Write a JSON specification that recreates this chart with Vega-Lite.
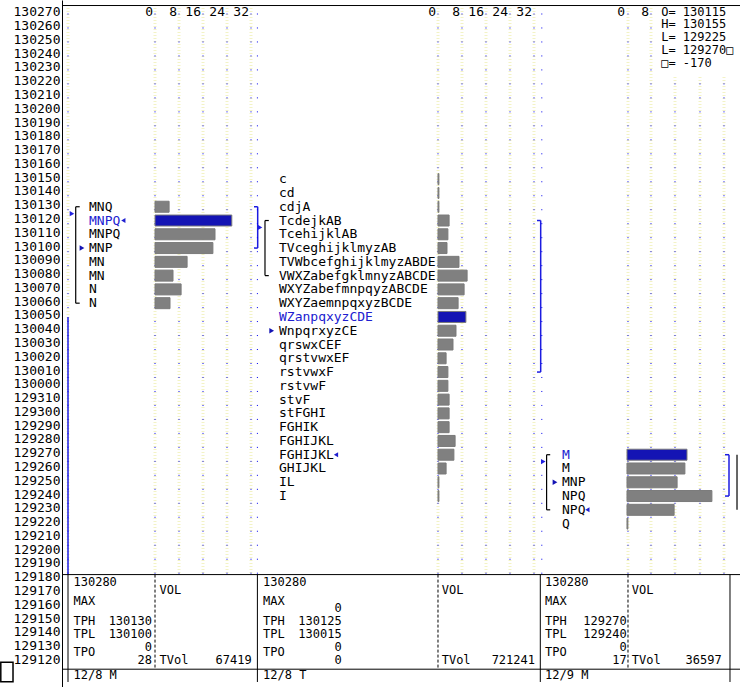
{
"$schema":"https://vega.github.io/schema/vega-lite/v6.json",
"padding":0,
"background":"white",
"bounds":"flush",
"spacing":0,
"config":{"view":{"stroke":null},"text":{"font":"DejaVu Sans Mono","fontSize":13,"baseline":"middle","align":"left","color":"black"}},
"datasets":{
"prof":[
{"d":"12/8 M","p":130.40625,"t":"MNQ","v":4.7},
{"d":"12/8 M","p":130.375,"t":"MNPQ","v":25.6,"poc":true},
{"d":"12/8 M","p":130.34375,"t":"MNPQ","v":20},
{"d":"12/8 M","p":130.3125,"t":"MNP","v":19.3},
{"d":"12/8 M","p":130.28125,"t":"MN","v":10.7},
{"d":"12/8 M","p":130.25,"t":"MN","v":6},
{"d":"12/8 M","p":130.21875,"t":"N","v":8.7},
{"d":"12/8 M","p":130.1875,"t":"N","v":5},
{"d":"12/8 T","p":130.46875,"t":"c","v":0.3},
{"d":"12/8 T","p":130.4375,"t":"cd","v":0.3},
{"d":"12/8 T","p":130.40625,"t":"cdjA","v":0.3},
{"d":"12/8 T","p":130.375,"t":"TcdejkAB","v":3.7},
{"d":"12/8 T","p":130.34375,"t":"TcehijklAB","v":3.3},
{"d":"12/8 T","p":130.3125,"t":"TVceghijklmyzAB","v":3},
{"d":"12/8 T","p":130.28125,"t":"TVWbcefghijklmyzABDE","v":7},
{"d":"12/8 T","p":130.25,"t":"VWXZabefgklmnyzABCDE","v":9.7},
{"d":"12/8 T","p":130.21875,"t":"WXYZabefmnpqyzABCDE","v":8.7},
{"d":"12/8 T","p":130.1875,"t":"WXYZaemnpqxyzBCDE","v":6.7},
{"d":"12/8 T","p":130.15625,"t":"WZanpqxyzCDE","v":9.3,"poc":true},
{"d":"12/8 T","p":130.125,"t":"WnpqrxyzCE","v":6},
{"d":"12/8 T","p":130.09375,"t":"qrswxCEF","v":5},
{"d":"12/8 T","p":130.0625,"t":"qrstvwxEF","v":2.7},
{"d":"12/8 T","p":130.03125,"t":"rstvwxF","v":3.3},
{"d":"12/8 T","p":130.0,"t":"rstvwF","v":3.3},
{"d":"12/8 T","p":129.96875,"t":"stvF","v":3.7},
{"d":"12/8 T","p":129.9375,"t":"stFGHI","v":3.7},
{"d":"12/8 T","p":129.90625,"t":"FGHIK","v":3.7},
{"d":"12/8 T","p":129.875,"t":"FGHIJKL","v":5.7},
{"d":"12/8 T","p":129.84375,"t":"FGHIJKL","v":5.3},
{"d":"12/8 T","p":129.8125,"t":"GHIJKL","v":2.7},
{"d":"12/8 T","p":129.78125,"t":"IL","v":0.3},
{"d":"12/8 T","p":129.75,"t":"I","v":0.3},
{"d":"12/9 M","p":129.84375,"t":"M","v":20,"poc":true},
{"d":"12/9 M","p":129.8125,"t":"M","v":19.3},
{"d":"12/9 M","p":129.78125,"t":"MNP","v":16.7},
{"d":"12/9 M","p":129.75,"t":"NPQ","v":28.3},
{"d":"12/9 M","p":129.71875,"t":"NPQ","v":15.7},
{"d":"12/9 M","p":129.6875,"t":"Q","v":0.3}
],
"mk":[
{"d":"12/8 M","k":"open","p":130.3125},
{"d":"12/8 M","k":"close","p":130.375},
{"d":"12/8 M","k":"mid","p":130.390625},
{"d":"12/8 T","k":"open","p":130.125},
{"d":"12/8 T","k":"close","p":129.84375},
{"d":"12/8 T","k":"mid","p":130.359375},
{"d":"12/9 M","k":"open","p":129.78125},
{"d":"12/9 M","k":"close","p":129.71875},
{"d":"12/9 M","k":"mid","p":129.828125}
],
"rng":[
{"d":"12/8 M","vah":130.40625,"val":130.1875,"tph":130.40625,"tpl":130.3125},
{"d":"12/8 T","vah":130.375,"val":130.25,"tph":130.375,"tpl":130.03125},
{"d":"12/9 M","vah":129.84375,"val":129.71875,"tph":129.84375,"tpl":129.75}
],
"stats":[
{"d":"12/8 M","max":"130280","maxv":"","tph":"130130","tpl":"130100","tpo1":"0","tpo2":"28","tvol":"67419"},
{"d":"12/8 T","max":"130280","maxv":"0","tph":"130125","tpl":"130015","tpo1":"0","tpo2":"0","tvol":"721241"},
{"d":"12/9 M","max":"130280","maxv":"","tph":"129270","tpl":"129240","tpo1":"0","tpo2":"17","tvol":"36597"}
],
"ticks":[{"v":0},{"v":8},{"v":16},{"v":24},{"v":32}]
},
"hconcat":[
{
"width":195,"height":687,
"data":{"name":"stats"},
"transform":[{"filter":"datum.d == '12/8 M'"}],
"resolve":{"axis":{"y":"independent"}},
"layer":[
{"data":{"values":[{"g":-29},{"g":0},{"g":8},{"g":16},{"g":24},{"g":32}]},"mark":{"type":"rule","color":"#f3f3c6","strokeWidth":3,"strokeDash":[1,2]},"encoding":{"x":{"field":"g","type":"quantitative","axis":null},"y":{"datum":130.86387,"axis":null},"y2":{"datum":129.57184}}},
{"data":{"values":[{"g":-29},{"g":0},{"g":8},{"g":16},{"g":24},{"g":32}]},"mark":{"type":"rule","color":"#0000ee","strokeWidth":1,"strokeDash":[1,12.98],"strokeDashOffset":5.48},"encoding":{"x":{"field":"g","type":"quantitative","axis":null},"y":{"datum":130.86387,"axis":null},"y2":{"datum":129.57184}}},
{"data":{"name":"prof"},"transform":[{"filter":"datum.d == '12/8 M'"}],"mark":{"type":"bar","orient":"horizontal","size":11,"stroke":"#7a7a7a","strokeWidth":1},"encoding":{
"x":{"field":"v","type":"quantitative","scale":{"domain":[-31,34],"nice":false,"zero":false},"axis":null},
"x2":{"datum":0},
"y":{"field":"p","type":"quantitative","scale":{"domain":[129.32819,130.86387],"nice":false,"zero":false},"axis":{"orient":"left","values":[130.84375,130.8125,130.78125,130.75,130.71875,130.6875,130.65625,130.625,130.59375,130.5625,130.53125,130.5,130.46875,130.4375,130.40625,130.375,130.34375,130.3125,130.28125,130.25,130.21875,130.1875,130.15625,130.125,130.09375,130.0625,130.03125,130,129.96875,129.9375,129.90625,129.875,129.84375,129.8125,129.78125,129.75,129.71875,129.6875,129.65625,129.625,129.59375,129.5625,129.53125,129.5,129.46875,129.4375,129.40625,129.375],"labelExpr":"floor(datum.value) + pad(toString(round((datum.value - floor(datum.value)) * 320)), 3, '0', 'left')","title":null,"ticks":false,"grid":false,"domain":true,"domainColor":"black","domainWidth":1,"labelFont":"DejaVu Sans Mono","labelFontSize":13,"labelColor":"black","labelPadding":2,"labelOffset":-2,"labelOverlap":false,"labelFlush":false,"labelBound":false,"minExtent":49,"maxExtent":49}},
"color":{"condition":{"test":"datum.poc","value":"#1414b4"},"value":"#808080"}}},
{"data":{"name":"prof"},"transform":[{"filter":"datum.d == '12/8 M'"}],"mark":{"type":"text"},"encoding":{"x":{"datum":-22,"axis":null},"y":{"field":"p","type":"quantitative","axis":null},"text":{"field":"t"},"color":{"condition":{"test":"datum.poc","value":"#2020d0"},"value":"black"}}},
{"data":{"name":"mk"},"transform":[{"filter":"datum.d == '12/8 M' && datum.k == 'open'"}],"mark":{"type":"point","shape":"triangle-right","filled":true,"size":30,"color":"#1414b4","opacity":1},"encoding":{"x":{"datum":-24.33,"axis":null},"y":{"field":"p","type":"quantitative","axis":null}}},
{"data":{"name":"mk"},"transform":[{"filter":"datum.d == '12/8 M' && datum.k == 'close'"}],"mark":{"type":"point","shape":"triangle-left","filled":true,"size":24,"color":"#2020d0","opacity":1},"encoding":{"x":{"datum":-10.56,"axis":null},"y":{"field":"p","type":"quantitative","axis":null}}},
{"data":{"name":"mk"},"transform":[{"filter":"datum.d == '12/8 M' && datum.k == 'mid'"}],"mark":{"type":"point","shape":"triangle-right","filled":true,"size":28,"color":"#2020e0","opacity":1},"encoding":{"x":{"datum":-27.67,"axis":null},"y":{"field":"p","type":"quantitative","axis":null}}},
{"data":{"name":"rng"},"transform":[{"filter":"datum.d == '12/8 M'"}],"mark":{"type":"rule","color":"black","strokeWidth":1.2},"encoding":{"x":{"datum":-26.43,"axis":null},"y":{"field":"vah","type":"quantitative","axis":null},"y2":{"field":"val"}}},
{"data":{"name":"rng"},"transform":[{"filter":"datum.d == '12/8 M'"}],"mark":{"type":"rule","color":"black","strokeWidth":1.2},"encoding":{"x":{"datum":-26.43,"axis":null},"x2":{"datum":-25.1},"y":{"field":"vah","type":"quantitative","axis":null}}},
{"data":{"name":"rng"},"transform":[{"filter":"datum.d == '12/8 M'"}],"mark":{"type":"rule","color":"black","strokeWidth":1.2},"encoding":{"x":{"datum":-26.43,"axis":null},"x2":{"datum":-25.1},"y":{"field":"val","type":"quantitative","axis":null}}},
{"data":{"name":"rng"},"transform":[{"filter":"datum.d == '12/8 M'"}],"mark":{"type":"rule","color":"#1c1ce0","strokeWidth":1.5},"encoding":{"x":{"datum":34.23,"axis":null},"y":{"field":"tph","type":"quantitative","axis":null},"y2":{"field":"tpl"}}},
{"data":{"name":"rng"},"transform":[{"filter":"datum.d == '12/8 M'"}],"mark":{"type":"rule","color":"#1c1ce0","strokeWidth":1.5},"encoding":{"x":{"datum":33.0,"axis":null},"x2":{"datum":34.23},"y":{"field":"tph","type":"quantitative","axis":null}}},
{"data":{"name":"rng"},"transform":[{"filter":"datum.d == '12/8 M'"}],"mark":{"type":"rule","color":"#1c1ce0","strokeWidth":1.5},"encoding":{"x":{"datum":33.0,"axis":null},"x2":{"datum":34.23},"y":{"field":"tpl","type":"quantitative","axis":null}}},
{"mark":{"type":"rule","color":"#1c1ce0","strokeWidth":1.5},"encoding":{"x":{"datum":-29,"axis":null},"y":{"datum":130.15625,"axis":null},"y2":{"datum":129.57184}}},
{"data":{"name":"ticks"},"mark":{"type":"text","align":"right","dx":-2,"dy":-2},"encoding":{"x":{"field":"v","type":"quantitative","axis":null},"y":{"datum":130.84375,"axis":null},"text":{"field":"v"}}},
{"mark":{"type":"rule","color":"black","strokeWidth":1},"encoding":{"y":{"datum":130.8627,"axis":null}}},
{"mark":{"type":"rule","color":"black","strokeWidth":1},"encoding":{"y":{"datum":129.57184,"axis":null}}},
{"mark":{"type":"rule","color":"black","strokeWidth":1},"encoding":{"y":{"datum":129.35725,"axis":null}}},
{"mark":{"type":"rule","color":"black","strokeWidth":1},"encoding":{"x":{"datum":-29,"axis":null},"y":{"datum":129.57184,"axis":null},"y2":{"datum":129.32819}}},
{"mark":{"type":"rule","color":"black","strokeWidth":1,"strokeDash":[3,2]},"encoding":{"x":{"datum":0,"axis":null},"y":{"datum":129.57184,"axis":null},"y2":{"datum":129.35725}}},
{"mark":{"type":"text","fontSize":12},"encoding":{"x":{"datum":-27.17,"axis":null},"y":{"datum":129.55396,"axis":null},"text":{"field":"max"}}},
{"mark":{"type":"text","text":"VOL","fontSize":12},"encoding":{"x":{"datum":1.5,"axis":null},"y":{"datum":129.53608,"axis":null}}},
{"mark":{"type":"text","text":"MAX","fontSize":12},"encoding":{"x":{"datum":-27.17,"axis":null},"y":{"datum":129.51149,"axis":null}}},
{"mark":{"type":"text","align":"right","fontSize":12},"encoding":{"x":{"datum":-1,"axis":null},"y":{"datum":129.49584,"axis":null},"text":{"field":"maxv"}}},
{"mark":{"type":"text","text":"TPH","fontSize":12},"encoding":{"x":{"datum":-27.17,"axis":null},"y":{"datum":129.46679,"axis":null}}},
{"mark":{"type":"text","align":"right","fontSize":12},"encoding":{"x":{"datum":-1,"axis":null},"y":{"datum":129.46679,"axis":null},"text":{"field":"tph"}}},
{"mark":{"type":"text","text":"TPL","fontSize":12},"encoding":{"x":{"datum":-27.17,"axis":null},"y":{"datum":129.43772,"axis":null}}},
{"mark":{"type":"text","align":"right","fontSize":12},"encoding":{"x":{"datum":-1,"axis":null},"y":{"datum":129.43772,"axis":null},"text":{"field":"tpl"}}},
{"mark":{"type":"text","text":"TPO","fontSize":12},"encoding":{"x":{"datum":-27.17,"axis":null},"y":{"datum":129.39525,"axis":null}}},
{"mark":{"type":"text","align":"right","fontSize":12},"encoding":{"x":{"datum":-1,"axis":null},"y":{"datum":129.40866,"axis":null},"text":{"field":"tpo1"}}},
{"mark":{"type":"text","align":"right","fontSize":12},"encoding":{"x":{"datum":-1,"axis":null},"y":{"datum":129.37737,"axis":null},"text":{"field":"tpo2"}}},
{"mark":{"type":"text","text":"TVol","fontSize":12},"encoding":{"x":{"datum":1.5,"axis":null},"y":{"datum":129.37737,"axis":null}}},
{"mark":{"type":"text","align":"right","fontSize":12},"encoding":{"x":{"datum":32.23,"axis":null},"y":{"datum":129.37737,"axis":null},"text":{"field":"tvol"}}},
{"mark":{"type":"text","fontSize":12},"encoding":{"x":{"datum":-27.17,"axis":null},"y":{"datum":129.34384,"axis":null},"text":{"field":"d"}}},
{"mark":{"type":"rect","fill":"white","stroke":"black","strokeWidth":1.5},"encoding":{"x":{"datum":-51.4,"axis":null},"x2":{"datum":-47.33},"y":{"datum":129.37288,"axis":null},"y2":{"datum":129.3285}}}
]
},
{
"width":283,"height":687,
"data":{"name":"stats"},
"transform":[{"filter":"datum.d == '12/8 T'"}],
"layer":[
{"data":{"values":[{"g":0},{"g":8},{"g":16},{"g":24},{"g":32}]},"mark":{"type":"rule","color":"#f3f3c6","strokeWidth":3,"strokeDash":[1,2]},"encoding":{"x":{"field":"g","type":"quantitative","axis":null},"y":{"datum":130.86387,"axis":null},"y2":{"datum":129.57184}}},
{"data":{"values":[{"g":-60.2},{"g":0},{"g":8},{"g":16},{"g":24},{"g":32}]},"mark":{"type":"rule","color":"#0000ee","strokeWidth":1,"strokeDash":[1,12.98],"strokeDashOffset":5.48},"encoding":{"x":{"field":"g","type":"quantitative","axis":null},"y":{"datum":130.86387,"axis":null},"y2":{"datum":129.57184}}},
{"data":{"name":"prof"},"transform":[{"filter":"datum.d == '12/8 T'"}],"mark":{"type":"bar","orient":"horizontal","size":11,"stroke":"#7a7a7a","strokeWidth":1},"encoding":{
"x":{"field":"v","type":"quantitative","scale":{"domain":[-60.333,34],"nice":false,"zero":false},"axis":null},
"x2":{"datum":0},
"y":{"field":"p","type":"quantitative","scale":{"domain":[129.32819,130.86387],"nice":false,"zero":false},"axis":null},
"color":{"condition":{"test":"datum.poc","value":"#1414b4"},"value":"#808080"}}},
{"data":{"name":"prof"},"transform":[{"filter":"datum.d == '12/8 T'"}],"mark":{"type":"text"},"encoding":{"x":{"datum":-53,"axis":null},"y":{"field":"p","type":"quantitative","axis":null},"text":{"field":"t"},"color":{"condition":{"test":"datum.poc","value":"#2020d0"},"value":"black"}}},
{"data":{"name":"mk"},"transform":[{"filter":"datum.d == '12/8 T' && datum.k == 'open'"}],"mark":{"type":"point","shape":"triangle-right","filled":true,"size":30,"color":"#1414b4","opacity":1},"encoding":{"x":{"datum":-55.43,"axis":null},"y":{"field":"p","type":"quantitative","axis":null}}},
{"data":{"name":"mk"},"transform":[{"filter":"datum.d == '12/8 T' && datum.k == 'close'"}],"mark":{"type":"point","shape":"triangle-left","filled":true,"size":24,"color":"#2020d0","opacity":1},"encoding":{"x":{"datum":-34,"axis":null},"y":{"field":"p","type":"quantitative","axis":null}}},
{"data":{"name":"mk"},"transform":[{"filter":"datum.d == '12/8 T' && datum.k == 'mid'"}],"mark":{"type":"point","shape":"triangle-right","filled":true,"size":28,"color":"#2020e0","opacity":1},"encoding":{"x":{"datum":-59.33,"axis":null},"y":{"field":"p","type":"quantitative","axis":null}}},
{"data":{"name":"rng"},"transform":[{"filter":"datum.d == '12/8 T'"}],"mark":{"type":"rule","color":"black","strokeWidth":1.2},"encoding":{"x":{"datum":-57.67,"axis":null},"y":{"field":"vah","type":"quantitative","axis":null},"y2":{"field":"val"}}},
{"data":{"name":"rng"},"transform":[{"filter":"datum.d == '12/8 T'"}],"mark":{"type":"rule","color":"black","strokeWidth":1.2},"encoding":{"x":{"datum":-57.67,"axis":null},"x2":{"datum":-56.4},"y":{"field":"vah","type":"quantitative","axis":null}}},
{"data":{"name":"rng"},"transform":[{"filter":"datum.d == '12/8 T'"}],"mark":{"type":"rule","color":"black","strokeWidth":1.2},"encoding":{"x":{"datum":-57.67,"axis":null},"x2":{"datum":-56.4},"y":{"field":"val","type":"quantitative","axis":null}}},
{"data":{"name":"rng"},"transform":[{"filter":"datum.d == '12/8 T'"}],"mark":{"type":"rule","color":"#1c1ce0","strokeWidth":1.5},"encoding":{"x":{"datum":34.23,"axis":null},"y":{"field":"tph","type":"quantitative","axis":null},"y2":{"field":"tpl"}}},
{"data":{"name":"rng"},"transform":[{"filter":"datum.d == '12/8 T'"}],"mark":{"type":"rule","color":"#1c1ce0","strokeWidth":1.5},"encoding":{"x":{"datum":33.0,"axis":null},"x2":{"datum":34.23},"y":{"field":"tph","type":"quantitative","axis":null}}},
{"data":{"name":"rng"},"transform":[{"filter":"datum.d == '12/8 T'"}],"mark":{"type":"rule","color":"#1c1ce0","strokeWidth":1.5},"encoding":{"x":{"datum":33.0,"axis":null},"x2":{"datum":34.23},"y":{"field":"tpl","type":"quantitative","axis":null}}},
{"data":{"name":"ticks"},"mark":{"type":"text","align":"right","dx":-2,"dy":-2},"encoding":{"x":{"field":"v","type":"quantitative","axis":null},"y":{"datum":130.84375,"axis":null},"text":{"field":"v"}}},
{"mark":{"type":"rule","color":"black","strokeWidth":1},"encoding":{"y":{"datum":130.8627,"axis":null}}},
{"mark":{"type":"rule","color":"black","strokeWidth":1},"encoding":{"y":{"datum":129.57184,"axis":null}}},
{"mark":{"type":"rule","color":"black","strokeWidth":1},"encoding":{"y":{"datum":129.35725,"axis":null}}},
{"mark":{"type":"rule","color":"black","strokeWidth":1},"encoding":{"x":{"datum":-60.2,"axis":null},"y":{"datum":129.57184,"axis":null},"y2":{"datum":129.32819}}},
{"mark":{"type":"rule","color":"black","strokeWidth":1,"strokeDash":[3,2]},"encoding":{"x":{"datum":0,"axis":null},"y":{"datum":129.57184,"axis":null},"y2":{"datum":129.35725}}},
{"mark":{"type":"text","fontSize":12},"encoding":{"x":{"datum":-58.33,"axis":null},"y":{"datum":129.55396,"axis":null},"text":{"field":"max"}}},
{"mark":{"type":"text","text":"VOL","fontSize":12},"encoding":{"x":{"datum":1.23,"axis":null},"y":{"datum":129.53608,"axis":null}}},
{"mark":{"type":"text","text":"MAX","fontSize":12},"encoding":{"x":{"datum":-58.33,"axis":null},"y":{"datum":129.51149,"axis":null}}},
{"mark":{"type":"text","align":"right","fontSize":12},"encoding":{"x":{"datum":-32.1,"axis":null},"y":{"datum":129.49584,"axis":null},"text":{"field":"maxv"}}},
{"mark":{"type":"text","text":"TPH","fontSize":12},"encoding":{"x":{"datum":-58.33,"axis":null},"y":{"datum":129.46679,"axis":null}}},
{"mark":{"type":"text","align":"right","fontSize":12},"encoding":{"x":{"datum":-32.1,"axis":null},"y":{"datum":129.46679,"axis":null},"text":{"field":"tph"}}},
{"mark":{"type":"text","text":"TPL","fontSize":12},"encoding":{"x":{"datum":-58.33,"axis":null},"y":{"datum":129.43772,"axis":null}}},
{"mark":{"type":"text","align":"right","fontSize":12},"encoding":{"x":{"datum":-32.1,"axis":null},"y":{"datum":129.43772,"axis":null},"text":{"field":"tpl"}}},
{"mark":{"type":"text","text":"TPO","fontSize":12},"encoding":{"x":{"datum":-58.33,"axis":null},"y":{"datum":129.39525,"axis":null}}},
{"mark":{"type":"text","align":"right","fontSize":12},"encoding":{"x":{"datum":-32.1,"axis":null},"y":{"datum":129.40866,"axis":null},"text":{"field":"tpo1"}}},
{"mark":{"type":"text","align":"right","fontSize":12},"encoding":{"x":{"datum":-32.1,"axis":null},"y":{"datum":129.37737,"axis":null},"text":{"field":"tpo2"}}},
{"mark":{"type":"text","text":"TVol","fontSize":12},"encoding":{"x":{"datum":1.23,"axis":null},"y":{"datum":129.37737,"axis":null}}},
{"mark":{"type":"text","align":"right","fontSize":12},"encoding":{"x":{"datum":32.33,"axis":null},"y":{"datum":129.37737,"axis":null},"text":{"field":"tvol"}}},
{"mark":{"type":"text","fontSize":12},"encoding":{"x":{"datum":-58.33,"axis":null},"y":{"datum":129.34384,"axis":null},"text":{"field":"d"}}}
]
},
{
"width":200,"height":687,
"data":{"name":"stats"},
"transform":[{"filter":"datum.d == '12/9 M'"}],
"layer":[
{"data":{"values":[{"g":0.33},{"g":8},{"g":16},{"g":24.33},{"g":32.33}]},"mark":{"type":"rule","color":"#f3f3c6","strokeWidth":3,"strokeDash":[1,2]},"encoding":{"x":{"field":"g","type":"quantitative","axis":null},"y":{"datum":130.86387,"axis":null},"y2":{"datum":129.57184}}},
{"data":{"values":[{"g":-28.4},{"g":0.33},{"g":8},{"g":16},{"g":24.33},{"g":32.33}]},"mark":{"type":"rule","color":"#0000ee","strokeWidth":1,"strokeDash":[1,12.98],"strokeDashOffset":5.48},"encoding":{"x":{"field":"g","type":"quantitative","axis":null},"y":{"datum":130.86387,"axis":null},"y2":{"datum":129.57184}}},
{"mark":{"type":"rect","fill":"white"},"encoding":{"x":{"datum":9.33,"axis":null},"x2":{"datum":37.667},"y":{"datum":130.86387,"axis":null},"y2":{"datum":130.70516}}},
{"data":{"name":"prof"},"transform":[{"filter":"datum.d == '12/9 M'"}],"mark":{"type":"bar","orient":"horizontal","size":11,"stroke":"#7a7a7a","strokeWidth":1},"encoding":{
"x":{"field":"v","type":"quantitative","scale":{"domain":[-29,37.667],"nice":false,"zero":false},"axis":null},
"x2":{"datum":0},
"y":{"field":"p","type":"quantitative","scale":{"domain":[129.32819,130.86387],"nice":false,"zero":false},"axis":null},
"color":{"condition":{"test":"datum.poc","value":"#1414b4"},"value":"#808080"}}},
{"data":{"name":"prof"},"transform":[{"filter":"datum.d == '12/9 M'"}],"mark":{"type":"text"},"encoding":{"x":{"datum":-21.67,"axis":null},"y":{"field":"p","type":"quantitative","axis":null},"text":{"field":"t"},"color":{"condition":{"test":"datum.poc","value":"#2020d0"},"value":"black"}}},
{"data":{"name":"mk"},"transform":[{"filter":"datum.d == '12/9 M' && datum.k == 'open'"}],"mark":{"type":"point","shape":"triangle-right","filled":true,"size":30,"color":"#1414b4","opacity":1},"encoding":{"x":{"datum":-24,"axis":null},"y":{"field":"p","type":"quantitative","axis":null}}},
{"data":{"name":"mk"},"transform":[{"filter":"datum.d == '12/9 M' && datum.k == 'close'"}],"mark":{"type":"point","shape":"triangle-left","filled":true,"size":24,"color":"#2020d0","opacity":1},"encoding":{"x":{"datum":-13.2,"axis":null},"y":{"field":"p","type":"quantitative","axis":null}}},
{"data":{"name":"mk"},"transform":[{"filter":"datum.d == '12/9 M' && datum.k == 'mid'"}],"mark":{"type":"point","shape":"triangle-right","filled":true,"size":28,"color":"#2020e0","opacity":1},"encoding":{"x":{"datum":-27.9,"axis":null},"y":{"field":"p","type":"quantitative","axis":null}}},
{"data":{"name":"rng"},"transform":[{"filter":"datum.d == '12/9 M'"}],"mark":{"type":"rule","color":"black","strokeWidth":1.2},"encoding":{"x":{"datum":-26.8,"axis":null},"y":{"field":"vah","type":"quantitative","axis":null},"y2":{"field":"val"}}},
{"data":{"name":"rng"},"transform":[{"filter":"datum.d == '12/9 M'"}],"mark":{"type":"rule","color":"black","strokeWidth":1.2},"encoding":{"x":{"datum":-26.8,"axis":null},"x2":{"datum":-25.6},"y":{"field":"vah","type":"quantitative","axis":null}}},
{"data":{"name":"rng"},"transform":[{"filter":"datum.d == '12/9 M'"}],"mark":{"type":"rule","color":"black","strokeWidth":1.2},"encoding":{"x":{"datum":-26.8,"axis":null},"x2":{"datum":-25.6},"y":{"field":"val","type":"quantitative","axis":null}}},
{"data":{"name":"rng"},"transform":[{"filter":"datum.d == '12/9 M'"}],"mark":{"type":"rule","color":"black","strokeWidth":1.2},"encoding":{"x":{"datum":36.67,"axis":null},"y":{"field":"vah","type":"quantitative","axis":null},"y2":{"field":"val"}}},
{"data":{"name":"rng"},"transform":[{"filter":"datum.d == '12/9 M'"}],"mark":{"type":"rule","color":"#1c1ce0","strokeWidth":1.5},"encoding":{"x":{"datum":34,"axis":null},"y":{"field":"tph","type":"quantitative","axis":null},"y2":{"field":"tpl"}}},
{"data":{"name":"rng"},"transform":[{"filter":"datum.d == '12/9 M'"}],"mark":{"type":"rule","color":"#1c1ce0","strokeWidth":1.5},"encoding":{"x":{"datum":32.67,"axis":null},"x2":{"datum":34},"y":{"field":"tph","type":"quantitative","axis":null}}},
{"data":{"name":"rng"},"transform":[{"filter":"datum.d == '12/9 M'"}],"mark":{"type":"rule","color":"#1c1ce0","strokeWidth":1.5},"encoding":{"x":{"datum":32.67,"axis":null},"x2":{"datum":34},"y":{"field":"tpl","type":"quantitative","axis":null}}},
{"data":{"name":"ticks"},"transform":[{"filter":"datum.v <= 8"}],"mark":{"type":"text","align":"right","dx":-2,"dy":-2},"encoding":{"x":{"field":"v","type":"quantitative","axis":null},"y":{"datum":130.84375,"axis":null},"text":{"field":"v"}}},
{"data":{"values":[{"s":"O= 130115"}]},"mark":{"type":"text","fontSize":12},"encoding":{"x":{"datum":11.4,"axis":null},"y":{"datum":130.84889,"axis":null},"text":{"field":"s"}}},
{"data":{"values":[{"s":"H= 130155"}]},"mark":{"type":"text","fontSize":12},"encoding":{"x":{"datum":11.4,"axis":null},"y":{"datum":130.81983,"axis":null},"text":{"field":"s"}}},
{"data":{"values":[{"s":"L= 129225"}]},"mark":{"type":"text","fontSize":12},"encoding":{"x":{"datum":11.4,"axis":null},"y":{"datum":130.79077,"axis":null},"text":{"field":"s"}}},
{"data":{"values":[{"s":"L= 129270\u25a1"}]},"mark":{"type":"text","fontSize":12},"encoding":{"x":{"datum":11.4,"axis":null},"y":{"datum":130.76171,"axis":null},"text":{"field":"s"}}},
{"data":{"values":[{"s":"\u25a1=   -170"}]},"mark":{"type":"text","fontSize":12},"encoding":{"x":{"datum":11.4,"axis":null},"y":{"datum":130.73265,"axis":null},"text":{"field":"s"}}},
{"mark":{"type":"rule","color":"black","strokeWidth":1},"encoding":{"y":{"datum":130.8627,"axis":null}}},
{"mark":{"type":"rule","color":"black","strokeWidth":1},"encoding":{"y":{"datum":129.57184,"axis":null}}},
{"mark":{"type":"rule","color":"black","strokeWidth":1},"encoding":{"y":{"datum":129.35725,"axis":null}}},
{"mark":{"type":"rule","color":"black","strokeWidth":1},"encoding":{"x":{"datum":-28.9,"axis":null},"y":{"datum":129.57184,"axis":null},"y2":{"datum":129.32819}}},
{"mark":{"type":"rule","color":"black","strokeWidth":1},"encoding":{"x":{"datum":34.33,"axis":null},"y":{"datum":129.57184,"axis":null},"y2":{"datum":129.32819}}},
{"mark":{"type":"rule","color":"black","strokeWidth":1,"strokeDash":[3,2]},"encoding":{"x":{"datum":0.33,"axis":null},"y":{"datum":129.57184,"axis":null},"y2":{"datum":129.35725}}},
{"mark":{"type":"text","fontSize":12},"encoding":{"x":{"datum":-27.33,"axis":null},"y":{"datum":129.55396,"axis":null},"text":{"field":"max"}}},
{"mark":{"type":"text","text":"VOL","fontSize":12},"encoding":{"x":{"datum":1.57,"axis":null},"y":{"datum":129.53608,"axis":null}}},
{"mark":{"type":"text","text":"MAX","fontSize":12},"encoding":{"x":{"datum":-27.33,"axis":null},"y":{"datum":129.51149,"axis":null}}},
{"mark":{"type":"text","align":"right","fontSize":12},"encoding":{"x":{"datum":-0.1,"axis":null},"y":{"datum":129.49584,"axis":null},"text":{"field":"maxv"}}},
{"mark":{"type":"text","text":"TPH","fontSize":12},"encoding":{"x":{"datum":-27.33,"axis":null},"y":{"datum":129.46679,"axis":null}}},
{"mark":{"type":"text","align":"right","fontSize":12},"encoding":{"x":{"datum":-0.1,"axis":null},"y":{"datum":129.46679,"axis":null},"text":{"field":"tph"}}},
{"mark":{"type":"text","text":"TPL","fontSize":12},"encoding":{"x":{"datum":-27.33,"axis":null},"y":{"datum":129.43772,"axis":null}}},
{"mark":{"type":"text","align":"right","fontSize":12},"encoding":{"x":{"datum":-0.1,"axis":null},"y":{"datum":129.43772,"axis":null},"text":{"field":"tpl"}}},
{"mark":{"type":"text","text":"TPO","fontSize":12},"encoding":{"x":{"datum":-27.33,"axis":null},"y":{"datum":129.39525,"axis":null}}},
{"mark":{"type":"text","align":"right","fontSize":12},"encoding":{"x":{"datum":-0.1,"axis":null},"y":{"datum":129.40866,"axis":null},"text":{"field":"tpo1"}}},
{"mark":{"type":"text","align":"right","fontSize":12},"encoding":{"x":{"datum":-0.1,"axis":null},"y":{"datum":129.37737,"axis":null},"text":{"field":"tpo2"}}},
{"mark":{"type":"text","text":"TVol","fontSize":12},"encoding":{"x":{"datum":1.57,"axis":null},"y":{"datum":129.37737,"axis":null}}},
{"mark":{"type":"text","align":"right","fontSize":12},"encoding":{"x":{"datum":31.57,"axis":null},"y":{"datum":129.37737,"axis":null},"text":{"field":"tvol"}}},
{"mark":{"type":"text","fontSize":12},"encoding":{"x":{"datum":-27.33,"axis":null},"y":{"datum":129.34384,"axis":null},"text":{"field":"d"}}}
]
}
]
}
